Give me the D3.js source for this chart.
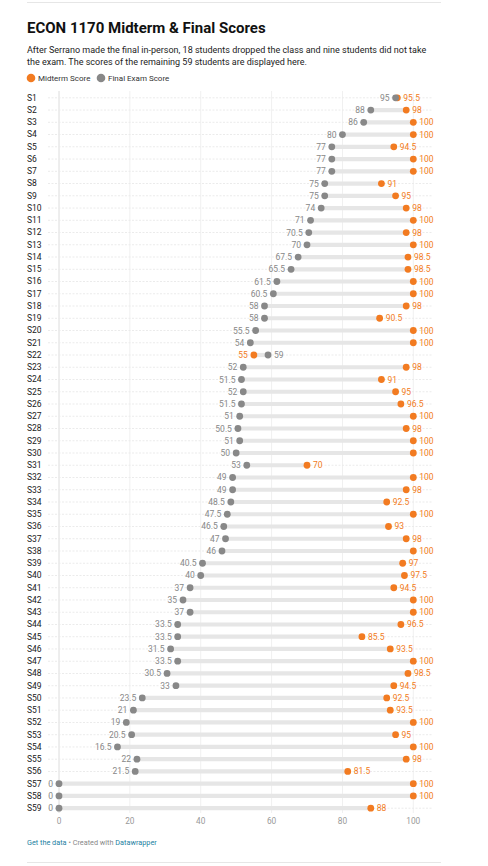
<!DOCTYPE html>
<html>
<head>
<meta charset="utf-8">
<script src="https://cdn.jsdelivr.net/npm/d3@7"></script>
<style>
  body { margin: 0; background: #fff; font-family: Roboto, "Noto Sans", sans-serif; }
</style>
</head>
<body>
<div id="chart"></div>
<script>
// students, in display order
const students = d3.range(1, 60).map(i => "S" + i);

const midterm = [95.5, 98, 100, 100, 94.5, 100, 100, 91, 95, 98,
  100, 98, 100, 98.5, 98.5, 100, 100, 98, 90.5, 100,
  100, 55, 98, 91, 95, 96.5, 100, 98, 100, 100,
  70, 100, 98, 92.5, 100, 93, 98, 100, 97, 97.5,
  94.5, 100, 100, 96.5, 85.5, 93.5, 100, 98.5, 94.5, 92.5,
  93.5, 100, 95, 100, 98, 81.5, 100, 100, 88];

const finalExam = [95, 88, 86, 80, 77, 77, 77, 75, 75, 74,
  71, 70.5, 70, 67.5, 65.5, 61.5, 60.5, 58, 58, 55.5,
  54, 59, 52, 51.5, 52, 51.5, 51, 50.5, 51, 50,
  53, 49, 49, 48.5, 47.5, 46.5, 47, 46, 40.5, 40,
  37, 35, 37, 33.5, 33.5, 31.5, 33.5, 30.5, 33, 23.5,
  21, 19, 20.5, 16.5, 22, 21.5, 0, 0, 0];

const xTicks = [0, 20, 40, 60, 80, 100];

const width = 488, height = 866;
const orange = "#f27b21", grey = "#888888";

const svg = d3.select("#chart").append("svg")
  .attr("width", width)
  .attr("height", height);

// top and bottom rules
svg.append("line").attr("x1", 27).attr("x2", 441).attr("y1", 2.5).attr("y2", 2.5)
  .style("stroke", "#e6e6e6");
svg.append("line").attr("x1", 27).attr("x2", 441).attr("y1", 862.5).attr("y2", 862.5)
  .style("stroke", "#e6e6e6");

// title + description
svg.append("text").attr("x", 27).attr("y", 33)
  .style("font-size", "15px").style("font-weight", "bold").style("fill", "#111")
  .text("ECON 1170 Midterm & Final Scores");

const desc = ["After Serrano made the final in-person, 18 students dropped the class and nine students did not take",
  "the exam. The scores of the remaining 59 students are displayed here."];
desc.forEach((t, i) => {
  svg.append("text").attr("x", 27).attr("y", 53 + i * 12)
    .style("font-size", "9px").style("fill", "#222").text(t);
});

// legend
const legend = svg.append("g").attr("transform", "translate(0,78)");
[["Midterm Score", orange, 31], ["Final Exam Score", grey, 101]].forEach(d => {
  legend.append("circle").attr("cx", d[2]).attr("cy", 0).attr("r", 4.3).style("fill", d[1]);
  legend.append("text").attr("x", d[2] + 7).attr("y", 2.8)
    .style("font-size", "8px").style("fill", "#333").text(d[0]);
});

// scales
const x = d3.scaleLinear().domain([0, 100]).range([59, 413.3]);
const y = d3.scalePoint().domain(students).range([97.3, 807.7]);

// vertical grid
svg.append("g").selectAll("line").data(xTicks).join("line")
  .attr("x1", d => x(d)).attr("x2", d => x(d))
  .attr("y1", 91).attr("y2", 813)
  .style("stroke", d => d === 0 ? "#dcdcdc" : "#f0f0f0")
  .style("stroke-width", 1);

// axis labels
svg.append("g").selectAll("text").data(xTicks).join("text")
  .attr("x", d => x(d)).attr("y", 824)
  .style("text-anchor", "middle")
  .style("font-size", "8.3px").style("fill", "#999")
  .text(d => d);

const rows = svg.append("g").selectAll("g").data(students).join("g")
  .attr("transform", d => `translate(0,${y(d)})`);

// row dashed guides
rows.append("line")
  .attr("x1", 48).attr("x2", 433).attr("y1", 0.5).attr("y2", 0.5)
  .style("stroke", "#ebebeb").style("stroke-dasharray", "2,1.5");

// row names
rows.append("text").attr("x", 27).attr("y", 3.3)
  .style("font-size", "8.5px").style("fill", "#1a1a1a")
  .text(d => d);

// range bars
rows.append("line")
  .attr("x1", (d, i) => x(Math.min(midterm[i], finalExam[i])))
  .attr("x2", (d, i) => x(Math.max(midterm[i], finalExam[i])))
  .attr("y1", 0.5).attr("y2", 0.5)
  .style("stroke", "#e6e6e6").style("stroke-width", 4.2);

// dots
rows.append("circle")
  .attr("cx", (d, i) => x(midterm[i])).attr("cy", 0.5).attr("r", 3.4)
  .style("fill", orange);
rows.append("circle")
  .attr("cx", (d, i) => x(finalExam[i])).attr("cy", 0.5).attr("r", 3.4)
  .style("fill", grey);

// value labels
rows.each(function (d, i) {
  const g = d3.select(this);
  const m = midterm[i], f = finalExam[i];
  const leftIsFinal = f <= m;
  const lo = leftIsFinal ? f : m, hi = leftIsFinal ? m : f;
  g.append("text").attr("x", x(lo) - 6).attr("y", 3.5)
    .style("text-anchor", "end").style("font-size", "8.5px")
    .style("fill", leftIsFinal ? grey : orange)
    .text(lo);
  g.append("text").attr("x", x(hi) + 6).attr("y", 3.5)
    .style("font-size", "8.5px")
    .style("fill", leftIsFinal ? orange : grey)
    .text(hi);
});

// footer
const foot = svg.append("text").attr("x", 27).attr("y", 845).style("font-size", "7.3px");
foot.append("tspan").style("fill", "#1d81a2").text("Get the data");
foot.append("tspan").style("fill", "#888").text(" • Created with ");
foot.append("tspan").style("fill", "#1d81a2").text("Datawrapper");
</script>
</body>
</html>
